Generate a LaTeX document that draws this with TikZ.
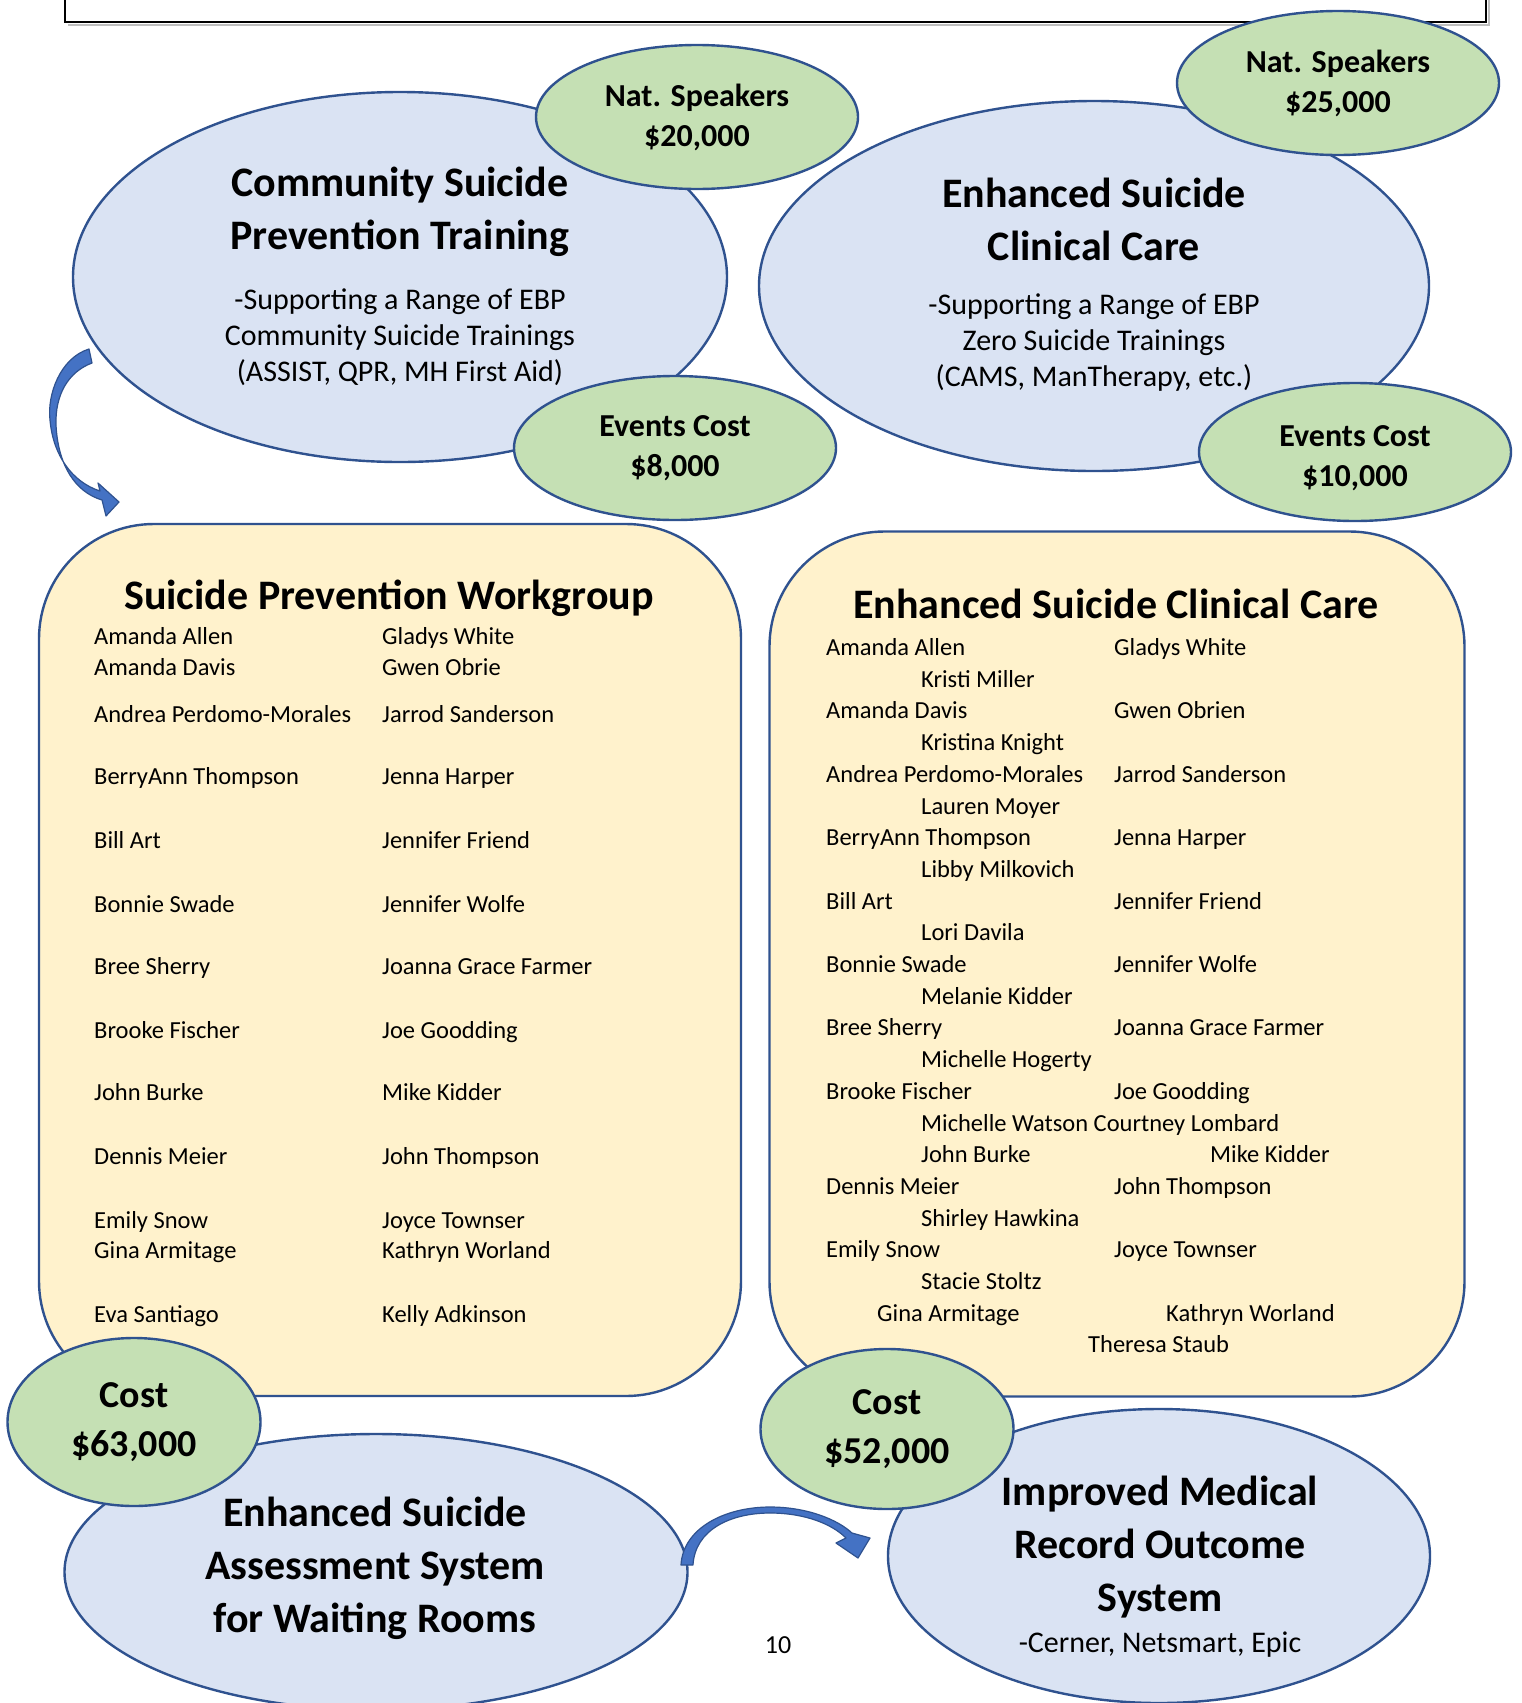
\documentclass[tikz,border=0pt]{standalone}
\usepackage{fontspec}
\setmainfont{Carlito}
\usepackage{xcolor}
\usetikzlibrary{shapes.geometric}
\definecolor{ovalblue}{HTML}{DAE3F3}
\definecolor{ovalgreen}{HTML}{C5E0B4}
\definecolor{boxyellow}{HTML}{FFF2CC}
\definecolor{edgeblue}{HTML}{2F528F}
\definecolor{arrowblue}{HTML}{4472C4}

\begin{document}
\begin{tikzpicture}[x=1pt,y=-1pt]
        \tikzset{bigoval/.style={ellipse,draw=edgeblue,fill=ovalblue,line width=2.4pt,inner sep=0pt},
            greenoval/.style={ellipse,draw=edgeblue,fill=ovalgreen,line width=2.4pt,inner sep=0pt},
            listbox/.style={rectangle,draw=edgeblue,fill=boxyellow,line width=2.4pt,rounded corners=115pt,inner sep=0pt},
            headtext/.style={font=\bfseries\fontsize{42}{53}\selectfont,align=center},
            subtext/.style={font=\fontsize{30}{36}\selectfont,align=center},
            costtext/.style={font=\bfseries\fontsize{32}{40}\selectfont,align=center},
            bigcost/.style={font=\bfseries\fontsize{38}{49}\selectfont,align=center},
            nametext/.style={font=\fontsize{24.5}{29}\selectfont,anchor=base west,inner sep=0pt},
            bendarrow/.style={draw=edgeblue,fill=arrowblue,line width=1.2pt,line join=round}}
        \useasboundingbox (0,0) rectangle (1521,1703);
        \clip (0,0) rectangle (1521,1703);

        % frame at the top
        \draw[gray!50,line width=1.5pt] (68,25) -- (1489,25) -- (1489,-5);
        \draw[line width=1.5pt] (65,-5) -- (65,22) -- (1486,22) -- (1486,-5);

        % top ovals
        \node[bigoval,minimum width=654pt,minimum height=370pt] (cspt) at (400,277) {};
        \node[bigoval,minimum width=670pt,minimum height=370pt] (escc) at (1094,286) {};
        \node[headtext] (cspt-t) at (400,212) {Community Suicide\\Prevention Training};
        \node[subtext] (cspt-s) at (400,337) {-Supporting a Range of EBP\\Community Suicide Trainings\\(ASSIST, QPR, MH First Aid)};
        \node[headtext] (escc-t) at (1094,219) {Enhanced Suicide\\Clinical Care};
        \node[subtext] (escc-s) at (1094,343) {-Supporting a Range of EBP\\Zero Suicide Trainings\\(CAMS, ManTherapy, etc.)};

        \node[greenoval,minimum width=322pt,minimum height=144pt,costtext] (spk1) at (697,117) {Nat. Speakers\\\$20,000};
        \node[greenoval,minimum width=322pt,minimum height=144pt,costtext] (evt1) at (675,448) {Events Cost\\\$8,000};
        \node[greenoval,minimum width=322pt,minimum height=144pt,costtext] (spk2) at (1338,83) {Nat. Speakers\\\$25,000};
        \node[greenoval,minimum width=312pt,minimum height=138pt] (evt2) at (1355,452) {};
        \node[costtext] (evt2-t) at (1355,458) {Events Cost\\\$10,000};

        % workgroup lists
        \node[listbox,minimum width=702pt,minimum height=872pt] (spw) at (390,960) {};
        \node[listbox,minimum width=695pt,minimum height=865pt] (ecc) at (1117,964) {};
        \node[headtext] (spw-t) at (389,598) {Suicide Prevention Workgroup};
        \node[headtext] (ecc-t) at (1116,604) {Enhanced Suicide Clinical Care};

        \foreach \y/\a/\b in {644/Amanda Allen/Gladys White, 675/Amanda Davis/Gwen Obrie,
            722/Andrea Perdomo-Morales/Jarrod Sanderson, 784/BerryAnn Thompson/Jenna Harper,
            848/Bill Art/Jennifer Friend, 912/Bonnie Swade/Jennifer Wolfe,
            974/Bree Sherry/Joanna Grace Farmer, 1038/Brooke Fischer/Joe Goodding,
            1100/John Burke/Mike Kidder, 1164/Dennis Meier/John Thompson,
            1228/Emily Snow/Joyce Townser, 1258/Gina Armitage/Kathryn Worland,
            1322/Eva Santiago/Kelly Adkinson}
        {
            \node[nametext] (spw-\y-a) at (94,\y) {\a};
            \node[nametext] (spw-\y-b) at (382,\y) {\b};
        }

        \foreach \k/\x/\t in {0/826/Amanda Allen, 0/1114/Gladys White, 1/921/Kristi Miller,
            2/826/Amanda Davis, 2/1114/Gwen Obrien, 3/921/Kristina Knight,
            4/826/Andrea Perdomo-Morales, 4/1114/Jarrod Sanderson, 5/921/Lauren Moyer,
            6/826/BerryAnn Thompson, 6/1114/Jenna Harper, 7/921/Libby Milkovich,
            8/826/Bill Art, 8/1114/Jennifer Friend, 9/921/Lori Davila,
            10/826/Bonnie Swade, 10/1114/Jennifer Wolfe, 11/921/Melanie Kidder,
            12/826/Bree Sherry, 12/1114/Joanna Grace Farmer, 13/921/Michelle Hogerty,
            14/826/Brooke Fischer, 14/1114/Joe Goodding, 15/921/Michelle Watson Courtney Lombard,
            16/921/John Burke, 16/1210/Mike Kidder,
            17/826/Dennis Meier, 17/1114/John Thompson, 18/921/Shirley Hawkina,
            19/826/Emily Snow, 19/1114/Joyce Townser, 20/921/Stacie Stoltz,
            21/877/Gina Armitage, 21/1166/Kathryn Worland, 22/1088/Theresa Staub}
        {
            \node[nametext] (ecc-\k-\x) at (\x,{655.5+31.7*\k}) {\t};
        }

        % bottom ovals
        \node[bigoval,minimum width=623pt,minimum height=276pt] (esas) at (376,1572) {};
        \node[bigoval,minimum width=542pt,minimum height=294pt] (imro) at (1159,1556) {};
        \node[headtext] (esas-t) at (375,1568) {Enhanced Suicide\\Assessment System\\for Waiting Rooms};
        \node[headtext] (imro-t) at (1160,1547) {Improved Medical\\Record Outcome\\System};
        \node[subtext] (imro-s) at (1160,1645) {-Cerner, Netsmart, Epic};

        \node[greenoval,minimum width=253pt,minimum height=168pt,bigcost] (cost1) at (134,1422) {Cost\\\$63,000};
        \node[greenoval,minimum width=253pt,minimum height=160pt,bigcost] (cost2) at (887,1429) {Cost\\\$52,000};

        % bent arrows
        \filldraw[bendarrow] (89,349) .. controls (60,358) and (47,395) .. (50,420)
            .. controls (53,455) and (72,482) .. (100,491) -- (98,483) -- (119,502) -- (106,516) -- (102,500)
            .. controls (75,492) and (58,465) .. (56,425) .. controls (55,395) and (68,372) .. (92,363) -- cycle;
        \filldraw[bendarrow] (681,1565) .. controls (683,1528) and (725,1507) .. (770,1507)
            .. controls (808,1507) and (838,1520) .. (852,1533) -- (870,1538) -- (858,1558) -- (836,1543) -- (846,1538)
            .. controls (832,1524) and (805,1513) .. (770,1513) .. controls (730,1513) and (695,1530) .. (693,1565) -- cycle;

        \node[font=\fontsize{26}{31}\selectfont] (pnum) at (778,1645) {10};
\end{tikzpicture}
\end{document}
